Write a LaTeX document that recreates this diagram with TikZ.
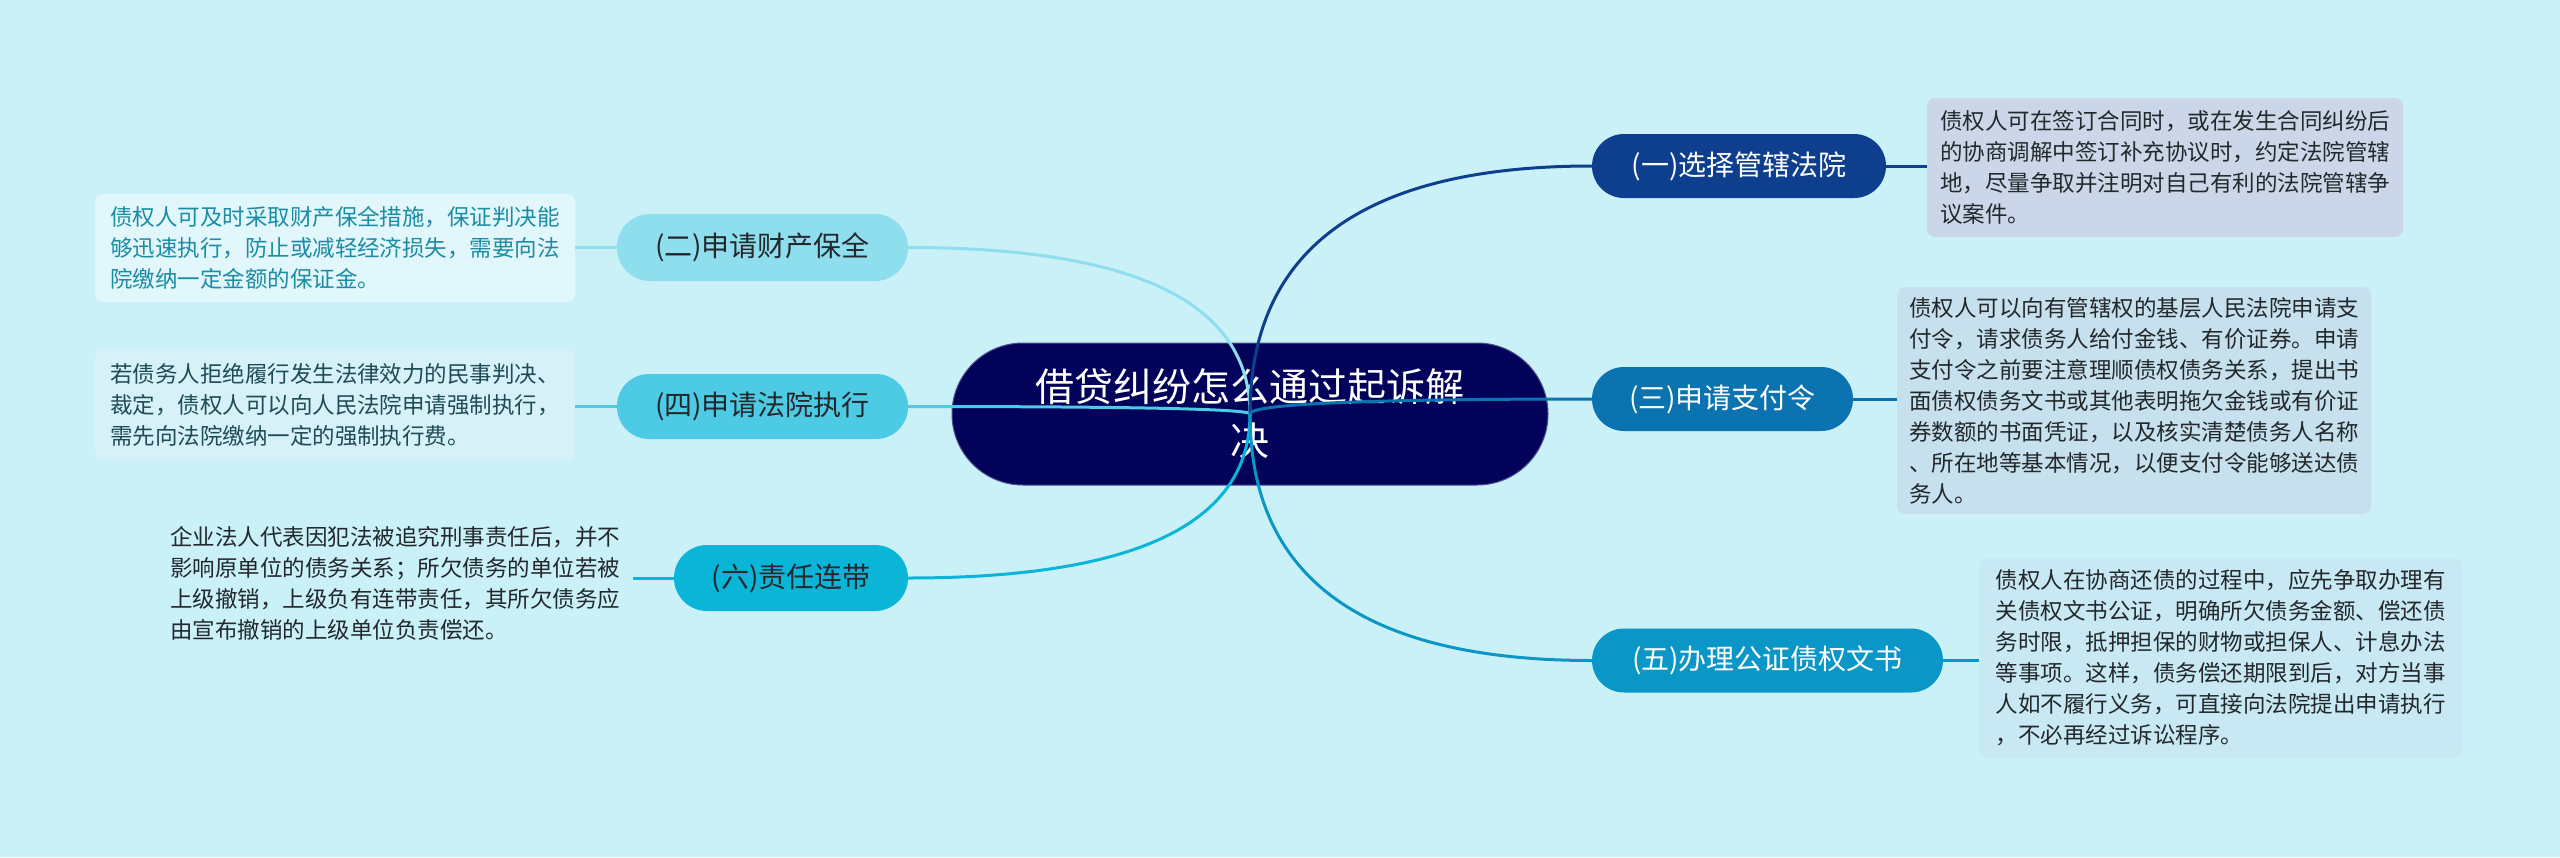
\documentclass[tikz,border=0pt]{standalone}
\usepackage{fontspec}
\setmainfont{Noto Sans CJK SC}
\usetikzlibrary{calc}
\definecolor{bgcol}{RGB}{202,240,248}
\definecolor{rootcol}{RGB}{2,2,90}
\definecolor{cone}{RGB}{14,63,142}
\definecolor{cthree}{RGB}{10,115,176}
\definecolor{cfive}{RGB}{11,150,200}
\definecolor{ctwo}{RGB}{143,222,238}
\definecolor{cfour}{RGB}{78,203,228}
\definecolor{csix}{RGB}{10,181,216}
\definecolor{darktxt}{RGB}{34,40,44}
\definecolor{rone}{RGB}{203,215,232}
\definecolor{rthree}{RGB}{198,224,237}
\definecolor{rfive}{RGB}{200,232,243}
\definecolor{ltwo}{RGB}{226,247,251}
\definecolor{lfour}{RGB}{214,242,248}
\definecolor{ltwotxt}{RGB}{27,140,165}
\definecolor{lfourtxt}{RGB}{30,75,85}
\newcommand\mmlink[3]{%
  \coordinate (k-#1) at (root.center |- #1.#2);
  \draw[link,#3] (root.center) .. controls ($(root.center)!0.6667!(k-#1)$) and ($(#1.#2)!0.6667!(k-#1)$) .. (#1.#2);
}
\begin{document}
\begin{tikzpicture}[x=1pt,y=-1pt,
  rootbox/.style={rectangle, rounded corners=71pt, fill=rootcol, draw=rootcol!70!white, line width=1pt,
    minimum width=596pt, minimum height=142pt, inner sep=0pt, align=center, text=white,
    font=\fontsize{39}{54}\selectfont},
  pill/.style={rectangle, rounded corners=32pt, minimum height=64pt, inner sep=0pt,
    font=\fontsize{28}{34}\selectfont},
  infobox/.style={rectangle, rounded corners=8pt, inner sep=0pt, align=left,
    text=darktxt, font=\fontsize{22.5}{31}\selectfont},
  link/.style={line width=3pt},
  stub/.style={line width=3pt}
]
\useasboundingbox (0,0) rectangle (2560,857);
\fill[bgcol] (0,0) rectangle (2560,857);

\node[rootbox] (root) at (1250,414) {借贷纠纷怎么通过起诉解\\决};

% right children
\node[pill, fill=cone, text=white, minimum width=294pt] (c1) at (1739,166) {(一)选择管辖法院};
\node[pill, fill=cthree, text=white, minimum width=261pt] (c3) at (1722.5,399) {(三)申请支付令};
\node[pill, fill=cfive, text=white, minimum width=351pt] (c5) at (1767.5,660.5) {(五)办理公证债权文书};
% left children
\node[pill, fill=ctwo, text=darktxt, minimum width=291pt, minimum height=67pt, rounded corners=33pt] (c2) at (762.5,247.5) {(二)申请财产保全};
\node[pill, fill=cfour, text=darktxt, minimum width=291pt, minimum height=65pt] (c4) at (762.5,406.5) {(四)申请法院执行};
\node[pill, fill=csix, text=darktxt, minimum width=234pt, minimum height=66pt, rounded corners=33pt] (c6) at (791,578) {(六)责任连带};

% info boxes
\node[infobox, fill=rone, minimum width=476pt, minimum height=139pt] (r1) at (2165,167.5)
{债权人可在签订合同时，或在发生合同纠纷后\\的协商调解中签订补充协议时，约定法院管辖\\地，尽量争取并注明对自己有利的法院管辖争\\议案件。};
\node[infobox, fill=rthree, minimum width=474pt, minimum height=227pt] (r3) at (2134,400.5)
{债权人可以向有管辖权的基层人民法院申请支\\付令，请求债务人给付金钱、有价证券。申请\\支付令之前要注意理顺债权债务关系，提出书\\面债权债务文书或其他表明拖欠金钱或有价证\\券数额的书面凭证，以及核实清楚债务人名称\\、所在地等基本情况，以便支付令能够送达债\\务人。};
\node[infobox, fill=rfive, minimum width=483pt, minimum height=200pt] (r5) at (2220.5,658)
{债权人在协商还债的过程中，应先争取办理有\\关债权文书公证，明确所欠债务金额、偿还债\\务时限，抵押担保的财物或担保人、计息办法\\等事项。这样，债务偿还期限到后，对方当事\\人如不履行义务，可直接向法院提出申请执行\\，不必再经过诉讼程序。};
\node[infobox, fill=ltwo, text=ltwotxt, minimum width=480pt, minimum height=108pt] (l2) at (335,248)
{债权人可及时采取财产保全措施，保证判决能\\够迅速执行，防止或减轻经济损失，需要向法\\院缴纳一定金额的保证金。};
\node[infobox, fill=lfour, text=lfourtxt, minimum width=480pt, minimum height=111pt] (l4) at (335,404.5)
{若债务人拒绝履行发生法律效力的民事判决、\\裁定，债权人可以向人民法院申请强制执行，\\需先向法院缴纳一定的强制执行费。};
\node[infobox, minimum width=476pt, minimum height=122pt] (l6) at (395,583)
{企业法人代表因犯法被追究刑事责任后，并不\\影响原单位的债务关系；所欠债务的单位若被\\上级撤销，上级负有连带责任，其所欠债务应\\由宣布撤销的上级单位负责偿还。};

% links root -> children
\mmlink{c2}{east}{ctwo}
\mmlink{c4}{east}{cfour}
\mmlink{c6}{east}{csix}
\mmlink{c1}{west}{cone}
\mmlink{c3}{west}{cthree}
\mmlink{c5}{west}{cfive}

% stubs child -> info box
\draw[stub, cone] (c1.east) -- (r1.west |- c1.east);
\draw[stub, cthree] (c3.east) -- (r3.west |- c3.east);
\draw[stub, cfive] (c5.east) -- (r5.west |- c5.east);
\draw[stub, ctwo] (c2.west) -- (l2.east |- c2.west);
\draw[stub, cfour] (c4.west) -- (l4.east |- c4.west);
\draw[stub, csix] (c6.west) -- (l6.east |- c6.west);
\end{tikzpicture}
\end{document}
